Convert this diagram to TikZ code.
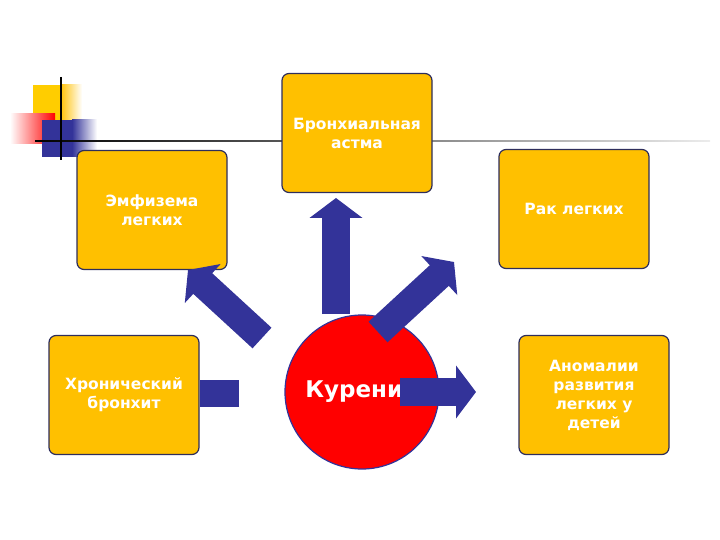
\documentclass[tikz,border=0pt]{standalone}
\usepackage{fontspec}
\setmainfont{DejaVu Sans}
\usetikzlibrary{arrows.meta}
\definecolor{boxy}{HTML}{FFC000}
\definecolor{navy}{HTML}{333399}
\definecolor{edge}{HTML}{2E2E5C}
\tikzset{
  dbox/.style={draw=edge,line width=1.2pt,fill=boxy,rounded corners=7pt,minimum width=150pt,minimum height=119pt,text=white,font=\bfseries\fontsize{15.5}{19}\selectfont,align=center,inner sep=0pt},
  fat/.style={color=navy,line width=28pt,-{Triangle[length=20pt,width=52pt]}},
  fatplain/.style={navy,line width=27pt}
}
\begin{document}
\begin{tikzpicture}[x=1pt,y=-1pt]
\useasboundingbox (0,0) rectangle (720,540);
% decoration
\fill[boxy!80!yellow] (33,85) rectangle (80,130);
\shade[left color=boxy,right color=white] (60,85) rectangle (82,130);
\shade[left color=white,right color=red] (10,114) rectangle (55,144);
\fill[navy] (42,120) rectangle (72,157);
\shade[left color=navy,right color=white] (72,120) rectangle (97,157);
\shade[left color=black,right color=white!85!gray] (35,140.5) rectangle (710,142);
\draw[line width=1.6pt] (61,77) -- (61,160);
% boxes
\node[dbox] (asthma) at (357,133) {Бронхиальная\\астма};
\node[dbox] (emph) at (152,210) {Эмфизема\\легких};
\node[dbox] (cancer) at (574,209) {Рак легких};
\node[dbox] (bronch) at (124,395) {Хронический\\бронхит};
\node[dbox] (anom) at (594,395) {Аномалии\\развития\\легких у\\детей};
\node[circle,draw=navy,line width=1.2pt,fill=red,minimum size=154pt,text=white,font=\bfseries\fontsize{23}{26}\selectfont,xshift=12pt] (smoke) at (350,392) {\hspace*{0pt}Курение};
% arrows
\coordinate (u0) at (336,314); \coordinate (u1) at (336,198);
\coordinate (l0) at (262,338); \coordinate (l1) at (188,270);
\coordinate (r0) at (378,332); \coordinate (r1) at (454,262);
\coordinate (h0) at (400,392); \coordinate (h1) at (476,392);
\coordinate (b0) at (239,393.5); \coordinate (b1) at (200,393.5);
\draw[fat] (u0) -- (u1);
\draw[fat] (l0) -- (l1);
\draw[fat] (r0) -- (r1);
\draw[fat] (h0) -- (h1);
\draw[fatplain] (b0) -- (b1);
\end{tikzpicture}
\end{document}
